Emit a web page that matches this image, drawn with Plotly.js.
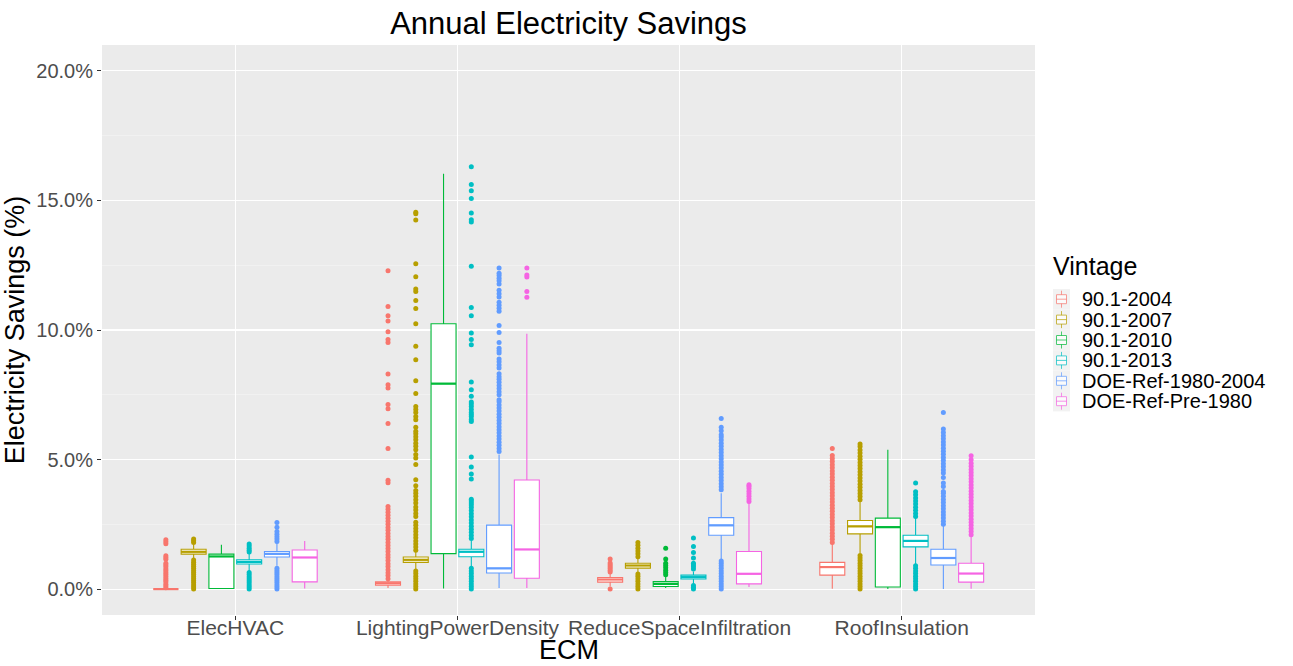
<!DOCTYPE html>
<html><head><meta charset="utf-8">
<script src="https://cdn.plot.ly/plotly-3.0.1.min.js"></script>
<style>html,body{margin:0;padding:0;background:#fff}#chart{width:1293px;height:666px}</style>
</head><body><div id="chart"></div>
<script>
const categories = ["ElecHVAC", "LightingPowerDensity", "ReduceSpaceInfiltration", "RoofInsulation"];
const vintages = ["90.1-2004", "90.1-2007", "90.1-2010", "90.1-2013", "DOE-Ref-1980-2004", "DOE-Ref-Pre-1980"];
const colors = ["#F8766D", "#B79F00", "#00BA38", "#00BFC4", "#619CFF", "#F564E3"];

// Box statistics in percent, one row per vintage, one column per ECM
const lowerFence = [
  [0.00, 0.04, 0.10, 0.01],
  [1.17, 0.77, 0.59, 1.39],
  [0.00, 0.02, 0.04, 0.00],
  [0.68, 0.87, 0.19, 0.97],
  [0.90, 0.04, 1.13, 0.00],
  [0.02, 0.04, 0.08, 0.01]
];
const q1 = [
  [0.00, 0.15, 0.27, 0.54],
  [1.35, 1.03, 0.81, 2.13],
  [0.02, 1.37, 0.10, 0.08],
  [0.97, 1.25, 0.39, 1.63],
  [1.24, 0.62, 2.08, 0.93],
  [0.28, 0.42, 0.20, 0.27]
];
const median = [
  [0.00, 0.22, 0.37, 0.85],
  [1.44, 1.13, 0.91, 2.42],
  [1.26, 7.93, 0.20, 2.39],
  [1.05, 1.44, 0.46, 1.86],
  [1.36, 0.80, 2.46, 1.20],
  [1.22, 1.53, 0.59, 0.60]
];
const q3 = [
  [0.00, 0.28, 0.45, 1.03],
  [1.54, 1.24, 1.00, 2.65],
  [1.35, 10.24, 0.29, 2.74],
  [1.13, 1.54, 0.54, 2.08],
  [1.45, 2.47, 2.76, 1.54],
  [1.51, 4.21, 1.45, 1.00]
];
const upperFence = [
  [0.00, 0.36, 0.62, 1.75],
  [1.72, 1.45, 1.20, 3.38],
  [1.71, 16.03, 0.48, 5.38],
  [1.39, 1.88, 0.68, 2.74],
  [1.78, 5.19, 3.70, 2.44],
  [1.86, 9.86, 3.32, 2.06]
];

// Outliers in percent, [vintage][ECM]
const outliers = [
  [
    [0.05,0.12,0.19,0.27,0.34,0.41,0.49,0.56,0.63,0.71,0.78,0.86,0.93,1.0,1.15,1.22,1.29,1.75,1.83,1.9],
    [0.4,0.52,0.63,0.75,0.87,0.98,1.1,1.22,1.33,1.45,1.57,1.68,1.8,1.92,2.03,2.15,2.27,2.38,2.5,2.62,2.73,2.85,2.97,3.08,3.19,4.1,4.2,5.43,6.39,6.96,7.12,7.76,7.89,8.3,9.52,9.63,9.93,10.35,10.55,10.91,12.29],
    [0.0,0.66,0.73,0.8,0.87,0.94,1.01,1.16],
    [1.8,1.92,2.04,2.16,2.28,2.4,2.52,2.64,2.76,2.88,3.0,3.12,3.24,3.36,3.48,3.6,3.72,3.84,3.96,4.08,4.2,4.32,4.44,4.56,4.68,4.8,4.92,5.04,5.16,5.43]
  ],
  [
    [0.0,0.08,0.16,0.24,0.32,0.4,0.48,0.56,0.64,0.72,0.8,0.88,0.96,1.04,1.12,1.8,1.87,1.93],
    [0.0,0.1,0.2,0.3,0.4,0.5,0.6,0.7,1.5,1.62,1.74,1.86,1.98,2.1,2.22,2.34,2.46,2.58,2.8,2.92,3.05,3.17,3.32,3.45,3.58,3.7,3.81,3.99,4.22,4.81,5.06,5.19,5.38,5.51,5.63,5.76,5.88,6.0,6.09,6.25,6.54,6.66,6.82,6.93,7.05,7.55,8.04,8.85,9.37,10.24,10.83,11.14,11.49,11.58,12.06,12.56,14.25,14.49,14.54],
    [0.0,0.1,0.2,0.3,0.4,0.5,0.58,1.25,1.36,1.47,1.58,1.69,1.8],
    [0.0,0.1,0.2,0.3,0.4,0.5,0.6,0.7,0.8,0.9,1.0,1.1,1.2,1.3,3.45,3.57,3.69,3.81,3.93,4.05,4.17,4.29,4.41,4.53,4.65,4.77,4.89,5.01,5.13,5.25,5.37,5.5,5.6]
  ],
  [
    [],
    [],
    [0.55,0.64,0.73,0.82,0.91,1.0,1.16,1.58],
    []
  ],
  [
    [0.0,0.08,0.16,0.24,0.32,0.4,0.48,0.56,0.64,1.43,1.5,1.58,1.66,1.74],
    [0.0,0.1,0.2,0.3,0.4,0.5,0.6,0.7,0.8,1.95,2.07,2.19,2.31,2.43,2.55,2.67,2.79,2.91,3.03,3.15,3.25,3.32,3.4,3.47,4.25,4.44,4.71,5.1,6.47,6.55,6.66,6.74,6.82,6.93,7.05,7.14,7.22,7.44,7.69,7.99,9.43,9.63,9.88,10.55,10.87,12.46,14.17,14.26,14.52,15.08,15.37,15.62,16.3],
    [0.0,0.07,0.14,0.78,0.86,0.93,1.0,1.2,1.41,1.64,1.97],
    [0.0,0.1,0.2,0.3,0.4,0.5,0.6,0.7,0.8,0.9,2.8,2.92,3.04,3.16,3.28,3.4,3.52,3.64,3.76,4.09]
  ],
  [
    [0.0,0.08,0.16,0.24,0.32,0.4,0.48,0.56,0.64,0.72,0.8,1.84,1.93,2.02,2.12,2.22,2.39,2.57],
    [5.31,5.43,5.55,5.67,5.79,5.91,6.03,6.15,6.27,6.39,6.51,6.63,6.75,6.87,6.99,7.11,7.23,7.31,7.5,7.62,7.74,7.86,7.98,8.1,8.2,8.31,8.53,8.65,8.77,8.88,9.11,9.2,9.3,9.52,9.9,10.17,10.72,10.84,10.96,11.07,11.27,11.4,11.53,11.78,11.9,12.0,12.1,12.19,12.39],
    [0.0,0.1,0.2,0.3,0.4,0.5,0.6,0.7,0.8,0.9,1.0,1.08,3.83,3.95,4.07,4.19,4.31,4.43,4.55,4.67,4.79,4.91,5.03,5.15,5.27,5.39,5.51,5.63,5.75,5.87,5.96,6.11,6.25,6.58],
    [2.5,2.62,2.74,2.86,2.98,3.1,3.22,3.34,3.46,3.58,3.7,3.77,3.96,4.09,4.31,4.48,4.6,4.72,4.84,4.96,5.08,5.2,5.32,5.44,5.56,5.68,5.8,5.92,6.04,6.18,6.82]
  ],
  [
    [],
    [11.26,11.49,12.05,12.12,12.39],
    [3.38,3.48,3.58,3.68,3.78,3.88,3.97,4.03],
    [2.1,2.22,2.34,2.46,2.58,2.7,2.82,2.94,3.06,3.18,3.3,3.42,3.54,3.66,3.78,3.9,4.02,4.14,4.26,4.38,4.5,4.62,4.74,4.86,4.99,5.15]
  ]
];

const yTicks = [0, 5, 10, 15, 20];
const legendTitle = "Vintage";
const xTitle = "ECM";

const nV = vintages.length;
const dodge = 0.75;
const slot = dodge / nV;
const boxW = slot * 0.9;

const boxTraces = [], medTraces = [], outTraces = [];
vintages.forEach((v, i) => {
  const off = (i - (nV - 1) / 2) * slot;
  const xs = categories.map((c, j) => j + 1 + off);
  boxTraces.push({
    type: 'box', name: v, x: xs,
    q1: q1[i], median: median[i], q3: q3[i],
    lowerfence: lowerFence[i], upperfence: upperFence[i],
    width: boxW, whiskerwidth: 0, boxpoints: false,
    fillcolor: 'white', line: {color: colors[i], width: 1.1},
    hoverinfo: 'skip'
  });
  const mx = [], my = [];
  xs.forEach((x, j) => { mx.push(x - boxW / 2, x + boxW / 2, null); my.push(median[i][j], median[i][j], null); });
  medTraces.push({type: 'scatter', mode: 'lines', x: mx, y: my, line: {color: colors[i], width: 2.2},
    hoverinfo: 'skip'});
  const ox = [], oy = [];
  outliers[i].forEach((arr, j) => arr.forEach(val => { ox.push(xs[j]); oy.push(val); }));
  outTraces.push({type: 'scatter', mode: 'markers', x: ox, y: oy,
    marker: {color: colors[i], size: 5, line: {width: 0}},
    hoverinfo: 'skip'});
});

// Custom ggplot-style legend (keys + labels), positioned in pixels then converted to paper coords
const W = 1293, H = 666, M = {l: 102, r: 258, t: 45, b: 51};
const pw = W - M.l - M.r, ph = H - M.t - M.b;
const px = p => (p - M.l) / pw;
const py = p => (H - M.b - p) / ph;
const keyTop = 289, keyStep = 20.4, keyX0 = 1053, keyX1 = 1070;
const shapes = [], annotations = [];
annotations.push({xref: 'paper', yref: 'paper', x: px(1051), y: py(266), xanchor: 'left', yanchor: 'middle',
  text: legendTitle, showarrow: false, font: {size: 25, color: '#000000'}});
vintages.forEach((v, k) => {
  const top = keyTop + k * keyStep, c = top + keyStep / 2, cx = (keyX0 + keyX1) / 2;
  shapes.push({type: 'rect', xref: 'paper', yref: 'paper', x0: px(keyX0), x1: px(keyX1), y0: py(top), y1: py(top + keyStep),
    fillcolor: '#F2F2F2', line: {width: 0}, layer: 'above'});
  shapes.push({type: 'rect', xref: 'paper', yref: 'paper', x0: px(cx - 5), x1: px(cx + 5), y0: py(c - 4.5), y1: py(c + 4.5),
    fillcolor: 'white', line: {color: colors[k], width: 1}, opacity: 0.7, layer: 'above'});
  shapes.push({type: 'line', xref: 'paper', yref: 'paper', x0: px(cx), x1: px(cx), y0: py(c - 8.5), y1: py(c - 4.5),
    line: {color: colors[k], width: 1}, opacity: 0.7, layer: 'above'});
  shapes.push({type: 'line', xref: 'paper', yref: 'paper', x0: px(cx), x1: px(cx), y0: py(c + 4.5), y1: py(c + 8.5),
    line: {color: colors[k], width: 1}, opacity: 0.7, layer: 'above'});
  shapes.push({type: 'line', xref: 'paper', yref: 'paper', x0: px(cx - 5), x1: px(cx + 5), y0: py(c), y1: py(c),
    line: {color: colors[k], width: 1}, opacity: 0.7, layer: 'above'});
  annotations.push({xref: 'paper', yref: 'paper', x: px(1080), y: py(c), xanchor: 'left', yanchor: 'middle',
    text: v, showarrow: false, font: {size: 20, color: '#000000'}});
});
// x-axis title placed just below the tick labels, resting on the bottom edge
annotations.push({xref: 'paper', yref: 'paper', x: 0.5, y: py(H), xanchor: 'center', yanchor: 'bottom',
  text: xTitle, showarrow: false, font: {size: 27, color: '#000000'}, borderpad: 0});

const layout = {
  width: W, height: H,
  margin: M,
  paper_bgcolor: 'white', plot_bgcolor: '#EBEBEB',
  font: {family: 'Liberation Sans, Arial, sans-serif', color: '#000000'},
  title: {text: 'Annual Electricity Savings', font: {size: 31, color: '#000000'},
    xref: 'paper', x: 0.5, xanchor: 'center', yref: 'container', y: 1 - 23 / 666, yanchor: 'middle'},
  boxmode: 'overlay', boxgap: 0, boxgroupgap: 0,
  showlegend: false,
  shapes: shapes, annotations: annotations,
  xaxis: {
    range: [0.4, 4.6], tickvals: categories.map((c, j) => j + 1), ticktext: categories,
    showgrid: true, gridcolor: 'white', gridwidth: 1.1, zeroline: false, showline: false,
    ticks: 'outside', ticklen: 4, tickcolor: '#333333', tickwidth: 1,
    tickfont: {size: 21, color: '#4D4D4D'}, ticklabelstandoff: -10
  },
  yaxis: {
    range: [-1, 21], tickvals: yTicks, ticktext: yTicks.map(t => t.toFixed(1) + '%'),
    showgrid: true, gridcolor: 'white', gridwidth: 1.1, zeroline: false, showline: false,
    ticks: 'outside', ticklen: 4, tickcolor: '#333333', tickwidth: 1,
    tickfont: {size: 20, color: '#4D4D4D'},
    minor: {tickvals: [2.5, 7.5, 12.5, 17.5], showgrid: true, gridcolor: '#F4F4F4', gridwidth: 0.7, ticks: ''},
    title: {text: 'Electricity Savings (%)', font: {size: 27, color: '#000000'}, standoff: 3}
  }
};

Plotly.newPlot('chart', [...boxTraces, ...medTraces, ...outTraces], layout, {displayModeBar: false, staticPlot: true});
</script>
</body></html>
